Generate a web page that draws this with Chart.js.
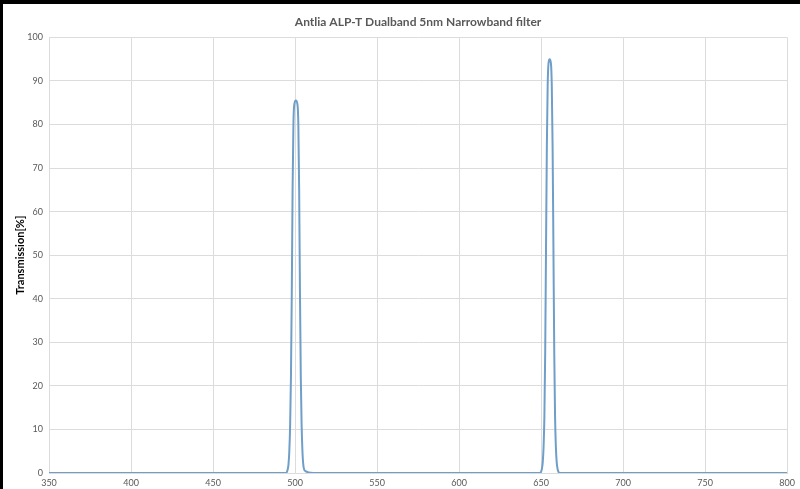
<!DOCTYPE html>
<html>
<head>
<meta charset="utf-8">
<script src="https://cdn.jsdelivr.net/npm/chart.js@4/dist/chart.umd.min.js"></script>
<style>
    body { margin: 0; background: #000; }
    #wrap { position: absolute; left: 3px; top: 4px; width: 797px; height: 485px; background: #fff; }
</style>
</head>
<body>
<div id="wrap"><canvas id="myChart" width="797" height="485"></canvas></div>
<script>
// wavelength [nm] and transmission [%]
var wavelength = [350, 490, 494.5, 495.5, 496, 496.5, 497, 497.5, 498, 498.5, 499, 499.5, 500.5, 501.5, 502, 502.5, 503, 503.5, 504, 504.5, 505, 506, 511,
                  645, 649.5, 650, 650.5, 651, 651.5, 652, 652.5, 653, 653.5, 654, 654.5, 655.2, 656, 656.5, 657, 657.5, 658, 658.5, 659, 659.5, 660, 660.5, 661.5, 667, 800];
var transmission = [0, 0, 0, 0.8, 2, 5, 11, 22, 41, 65, 80, 84.5, 85.5, 84.5, 80, 65, 41, 22, 11, 5, 2, 0.5, 0,
                    0, 0, 0.3, 1, 2.5, 6, 13, 28, 52, 75, 89, 94, 95, 94, 89, 75, 52, 28, 13, 6, 2.5, 1, 0.3, 0, 0, 0];
var xTicks = [350, 400, 450, 500, 550, 600, 650, 700, 750, 800];
var yTicks = [0, 10, 20, 30, 40, 50, 60, 70, 80, 90, 100];

var points = [];
for (var i = 0; i < wavelength.length; i++) {
    points.push({ x: wavelength[i], y: transmission[i] });
}

var tickFont = { family: "Lato", size: 9 };
var ctx = document.getElementById("myChart").getContext("2d");

var chart = new Chart(ctx, {
    type: "line",
    data: {
        datasets: [{
            data: points,
            borderColor: "#6f9ec8",
            borderWidth: 2,
            pointRadius: 0,
            fill: false,
            cubicInterpolationMode: "monotone"
        }]
    },
    options: {
        responsive: false,
        animation: false,
        layout: { padding: { left: 0, right: 12, top: 0, bottom: 0 } },
        plugins: {
            legend: { display: false },
            tooltip: { enabled: false },
            title: {
                display: true,
                fullSize: false,
                text: "Antlia ALP-T Dualband 5nm Narrowband filter",
                color: "#595959",
                font: { family: "Lato", size: 12, weight: "bold" },
                padding: { top: 11, bottom: 8 }
            }
        },
        scales: {
            x: {
                type: "linear",
                min: 350,
                max: 800,
                afterBuildTicks: function (axis) {
                    axis.ticks = xTicks.map(function (v) { return { value: v }; });
                },
                afterFit: function (axis) { axis.height = 16; },
                ticks: { color: "#595959", font: tickFont, padding: 5, maxRotation: 0 },
                grid: { color: "#dcdcdc", drawTicks: false },
                border: { color: "#dcdcdc" }
            },
            y: {
                min: 0,
                max: 100,
                afterBuildTicks: function (axis) {
                    axis.ticks = yTicks.map(function (v) { return { value: v }; });
                },
                afterFit: function (axis) { axis.width = 46; },
                ticks: { color: "#595959", font: tickFont, padding: 6 },
                grid: { color: "#dcdcdc", drawTicks: false },
                border: { color: "#dcdcdc" },
                title: {
                    display: true,
                    text: "Transmission[%]",
                    color: "#000",
                    font: { family: "Lato", size: 11, weight: "bold" },
                    padding: { top: 11, bottom: 0 }
                }
            }
        }
    }
});
</script>
</body>
</html>
